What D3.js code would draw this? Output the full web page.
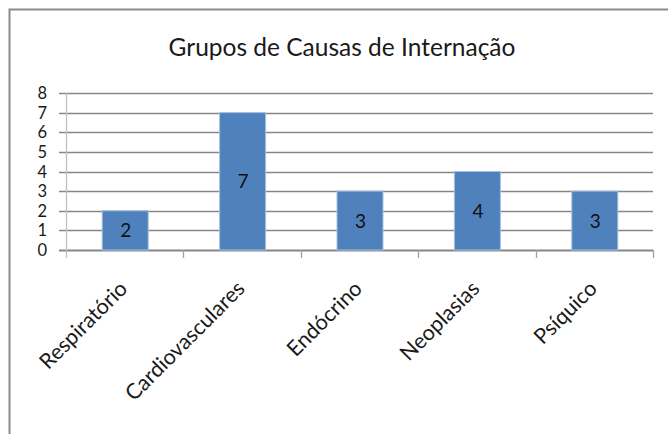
<!DOCTYPE html>
<html><head><meta charset="utf-8">
<script src="https://cdn.jsdelivr.net/npm/d3@7"></script>
<style>body{margin:0;background:#fff}svg{display:block}</style>
</head><body>
<script>
const categories = ["Respiratório","Cardiovasculares","Endócrino","Neoplasias","Psíquico"];
const values = [2,7,3,4,3];
const yTicks = [0,1,2,3,4,5,6,7,8];
const title = "Grupos de Causas de Internação";

const W=668,H=434;
const FONT="Lato, 'Open Sans', sans-serif";
const svg=d3.select("body").append("svg").attr("width",W).attr("height",H);
svg.append("rect").attr("width",W).attr("height",H).attr("fill","#fff");
// frame
svg.append("path").attr("d",`M9.5,${H+5}V9.5H${W+5}`).attr("fill","none").attr("stroke","#8c8c8c").attr("stroke-width",2);

const x0=66,x1=653,y0=250,y1=93;
const x=d3.scaleBand().domain(categories).range([x0,x1]).paddingInner(0).paddingOuter(0);
const y=d3.scaleLinear().domain([0,8]).range([y0,y1]);

svg.append("text").attr("x",342).attr("y",56).attr("text-anchor","middle")
 .attr("font-family",FONT).attr("font-size",24.5).attr("fill","#1a1a1a").text(title);

// gridlines
const g=svg.append("g");
g.selectAll("line.grid").data(yTicks).join("line")
 .attr("x1",59).attr("x2",x1).attr("y1",d=>Math.round(y(d))+0.5).attr("y2",d=>Math.round(y(d))+0.5)
 .attr("stroke","#868686").attr("stroke-width",d=>d===0?2:1.3);
// y axis line
svg.append("line").attr("x1",x0+0.5).attr("x2",x0+0.5).attr("y1",y1).attr("y2",y0+8).attr("stroke","#c0c0c0").attr("stroke-width",1.3);
// x tick marks
const bounds=categories.map(c=>x(c)).concat([x1]);
svg.selectAll("line.xt").data(bounds.slice(1)).join("line")
 .attr("x1",d=>Math.round(d)+0.5).attr("x2",d=>Math.round(d)+0.5).attr("y1",y0).attr("y2",y0+8)
 .attr("stroke","#a0a0a0").attr("stroke-width",1.3);
// y labels
svg.selectAll("text.yl").data(yTicks).join("text")
 .attr("x",47).attr("y",d=>y(d)+6).attr("text-anchor","end")
 .attr("font-family",FONT).attr("font-size",16.5).attr("fill","#1a1a1a").text(d=>d);

// bars
const bw=46;
svg.selectAll("rect.bar").data(values).join("rect")
 .attr("x",(d,i)=>x(categories[i])+x.bandwidth()/2-bw/2+0.5)
 .attr("y",d=>y(d)).attr("width",bw).attr("height",d=>y0-y(d))
 .attr("fill","#4f81bd").attr("stroke","#a7bfde").attr("stroke-width",1);
svg.selectAll("text.vl").data(values).join("text")
 .attr("x",(d,i)=>x(categories[i])+x.bandwidth()/2+1)
 .attr("y",d=>(y(d)+y0)/2+7).attr("text-anchor","middle")
 .attr("font-family",FONT).attr("font-size",19).attr("fill","#111").text(d=>d);

// x labels
svg.selectAll("text.xl").data(categories).join("text")
 .attr("transform",c=>`translate(${x(c)+x.bandwidth()/2+4},${y0+40}) rotate(-45)`)
 .attr("text-anchor","end")
 .attr("font-family",FONT).attr("font-size",21.5).attr("fill","#1a1a1a").text(c=>c);
</script>
</body></html>
